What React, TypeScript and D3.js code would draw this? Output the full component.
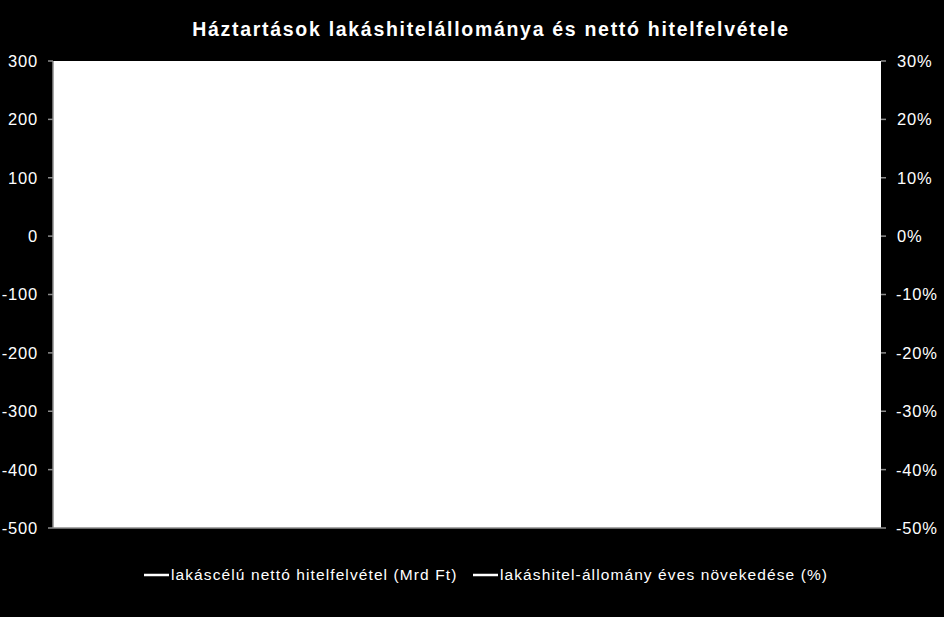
import React, { useMemo } from "react";
import * as d3 from "d3";

// the reference shows no visible marks: both series are empty in the plot
const categories: string[] = [];
const netBorrowing: number[] = []; // Mrd Ft
const stockGrowth: number[] = []; // %

const leftTicks = [300, 200, 100, 0, -100, -200, -300, -400, -500];
const rightTicks = [30, 20, 10, 0, -10, -20, -30, -40, -50];

const title = "Háztartások lakáshitelállománya és nettó hitelfelvétele";
const legendItems = [
  "lakáscélú nettó hitelfelvétel (Mrd Ft)",
  "lakáshitel-állomány éves növekedése (%)",
];

const width = 944;
const height = 617;
const margin = { top: 61, right: 63, bottom: 89, left: 53 };
const axisColor = "#8c8c8c";
const font = "'Liberation Sans', Arial, sans-serif";

export default function App() {
  const x = useMemo(
    () =>
      d3
        .scalePoint<string>()
        .domain(categories)
        .range([margin.left, width - margin.right])
        .padding(0.5),
    []
  );
  const yLeft = useMemo(
    () => d3.scaleLinear([-500, 300], [height - margin.bottom, margin.top]),
    []
  );
  const yRight = useMemo(
    () => d3.scaleLinear([-50, 30], [height - margin.bottom, margin.top]),
    []
  );

  const lineLeft = d3
    .line<number>()
    .x((_, i) => x(categories[i]) ?? 0)
    .y((d) => yLeft(d));
  const lineRight = d3
    .line<number>()
    .x((_, i) => x(categories[i]) ?? 0)
    .y((d) => yRight(d));

  const x0 = margin.left;
  const x1 = width - margin.right;
  const yb = height - margin.bottom;

  return (
    <svg
      width={width}
      height={height}
      style={{ position: "absolute", top: 0, left: 0, background: "#000" }}
      fontFamily={font}
    >
      <rect x={0} y={0} width={width} height={height} fill="#000" />
      <rect x={x0} y={margin.top} width={x1 - x0} height={yb - margin.top} fill="#fff" />

      <text
        x={491}
        y={36}
        textAnchor="middle"
        fill="#fff"
        fontWeight="bold"
        fontSize={19.5}
        letterSpacing={1.7}
      >
        {title}
      </text>

      {/* left axis */}
      <line x1={x0} x2={x0} y1={margin.top} y2={yb} stroke={axisColor} strokeWidth={1.5} />
      {leftTicks.map((t) => (
        <g key={t}>
          <line x1={x0 - 5} x2={x0} y1={yLeft(t)} y2={yLeft(t)} stroke={axisColor} strokeWidth={1.5} />
          <text
            x={38}
            y={yLeft(t)}
            dy="0.36em"
            textAnchor="end"
            fill="#fff"
            fontSize={16.5}
            letterSpacing={0.8}
          >
            {String(t)}
          </text>
        </g>
      ))}

      {/* right axis */}
      {rightTicks.map((t) => (
        <g key={t}>
          <line x1={x1} x2={x1 + 5} y1={yRight(t)} y2={yRight(t)} stroke={axisColor} strokeWidth={1.5} />
          <text
            x={t < 0 ? 896 : 897}
            y={yRight(t)}
            dy="0.36em"
            textAnchor="start"
            fill="#fff"
            fontSize={16.5}
            letterSpacing={0.8}
          >
            {`${t}%`}
          </text>
        </g>
      ))}

      {/* bottom axis */}
      <line x1={x0} x2={x1} y1={yb} y2={yb} stroke={axisColor} strokeWidth={1.5} />

      <path d={lineLeft(netBorrowing) ?? ""} fill="none" stroke="#fff" strokeWidth={2} />
      <path d={lineRight(stockGrowth) ?? ""} fill="none" stroke="#fff" strokeWidth={2} />

      {/* legend */}
      {legendItems.map((label, i) => {
        const lx = i === 0 ? 144 : 473;
        return (
          <g key={label}>
            <line x1={lx} x2={lx + 25} y1={575} y2={575} stroke="#fff" strokeWidth={2.5} />
            <text
              x={lx + 27}
              y={575}
              dy="0.35em"
              fill="#fff"
              fontSize={15.5}
              letterSpacing={1.1}
            >
              {label}
            </text>
          </g>
        );
      })}
    </svg>
  );
}
